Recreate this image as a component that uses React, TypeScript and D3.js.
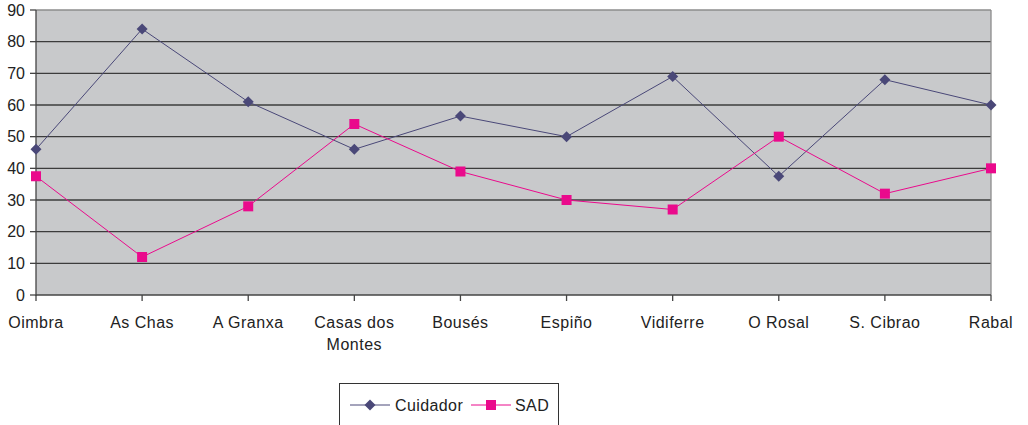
import React from "react";
import * as d3 from "d3";

const categories = ["Oimbra", "As Chas", "A Granxa", "Casas dos|Montes", "Bousés", "Espiño", "Vidiferre", "O Rosal", "S. Cibrao", "Rabal"];
const cuidador = [46, 84, 61, 46, 56.5, 50, 69, 37.5, 68, 60];
const sad = [37.5, 12, 28, 54, 39, 30, 27, 50, 32, 40];
const yTicks = [0, 10, 20, 30, 40, 50, 60, 70, 80, 90];

const W = 1028, H = 425;
const L = 36, R = 991, T = 10, B = 295;
const C1 = "#4a4878", C2 = "#ea0a8c";
const FONT = "'Liberation Sans', Arial, sans-serif";

export default function App() {
  const x = d3.scalePoint<string>().domain(categories).range([L, R]).padding(0);
  const y = d3.scaleLinear().domain([0, 90]).range([B, T]);
  const line = d3.line<number>().x((_, i) => x(categories[i])!).y(d => y(d));
  const diamond = (cx: number, cy: number, r = 5.5) => `M${cx},${cy - r}L${cx + r},${cy}L${cx},${cy + r}L${cx - r},${cy}Z`;
  return (
    <svg width={W} height={H} style={{ position: "absolute", left: 0, top: 0 }} fontFamily={FONT}>
      <rect x={L} y={T} width={R - L} height={B - T} fill="#c8c9cb" />
      {yTicks.map(t => t > 0 && t < 90 ? (
        <line key={t} x1={L} x2={R} y1={y(t)} y2={y(t)} stroke="#3c3c3c" strokeWidth={1.3} />
      ) : null)}
      <line x1={L} x2={R} y1={T} y2={T} stroke="#8c8c8c" strokeWidth={1.3} />
      <line x1={R} x2={R} y1={T} y2={B} stroke="#8c8c8c" strokeWidth={1.3} />
      <line x1={L} x2={L} y1={T} y2={B + 1} stroke="#444" strokeWidth={1.3} />
      <line x1={L} x2={R} y1={B} y2={B} stroke="#444" strokeWidth={1.3} />
      {yTicks.map(t => (
        <g key={t}>
          <line x1={L - 6} x2={L} y1={y(t)} y2={y(t)} stroke="#444" strokeWidth={1.3} />
          <text x={L - 11} y={y(t) + 5.5} textAnchor="end" fontSize={16} fill="#222">{t}</text>
        </g>
      ))}
      {categories.map(c => (
        <g key={c}>
          <line x1={x(c)!} x2={x(c)!} y1={B} y2={B + 6} stroke="#444" strokeWidth={1.3} />
          {c.split("|").map((s, j) => (
            <text key={j} x={x(c)!} y={328 + j * 22} textAnchor="middle" fontSize={16} letterSpacing={0.5} fill="#222">{s}</text>
          ))}
        </g>
      ))}
      <path d={line(cuidador)!} fill="none" stroke={C1} strokeWidth={1} />
      <path d={line(sad)!} fill="none" stroke={C2} strokeWidth={1} />
      {cuidador.map((v, i) => (
        <path key={i} d={diamond(x(categories[i])!, y(v))} fill={C1} />
      ))}
      {sad.map((v, i) => (
        <rect key={i} x={x(categories[i])! - 5} y={y(v) - 5} width={10} height={10} fill={C2} />
      ))}
      <rect x={339.5} y={383.5} width={219} height={50} fill="#fff" stroke="#333" strokeWidth={1} />
      <line x1={350} x2={390} y1={405} y2={405} stroke={C1} strokeWidth={1} />
      <path d={diamond(370, 405)} fill={C1} />
      <text x={395} y={410.5} fontSize={16} letterSpacing={0.4} fill="#222">Cuidador</text>
      <line x1={471} x2={511} y1={405} y2={405} stroke={C2} strokeWidth={1} />
      <rect x={486} y={400} width={10} height={10} fill={C2} />
      <text x={515} y={410.5} fontSize={16} letterSpacing={0.4} fill="#222">SAD</text>
    </svg>
  );
}
